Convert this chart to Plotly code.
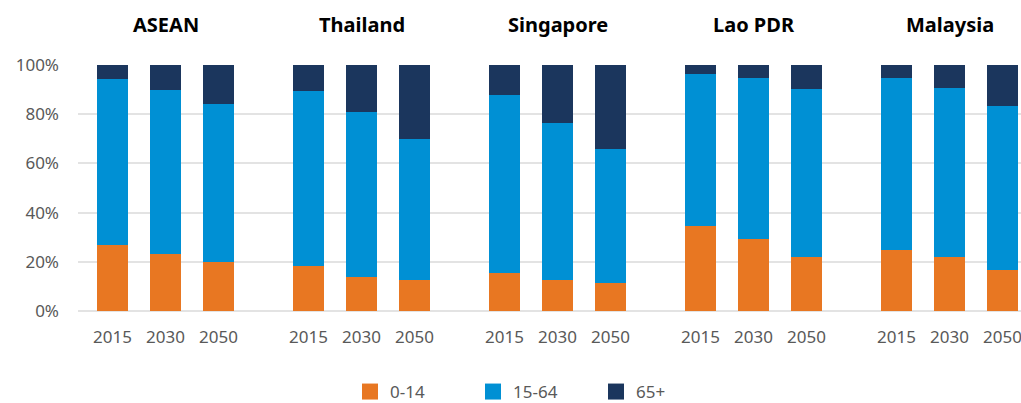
import plotly.graph_objects as go

countries = ["ASEAN", "Thailand", "Singapore", "Lao PDR", "Malaysia"]
years = ["2015", "2030", "2050"]
age_groups = ["0-14", "15-64", "65+"]

share_0_14 = [
    [26.8, 23.3, 19.9],
    [18.3, 13.8, 12.6],
    [15.4, 12.7, 11.4],
    [34.7, 29.3, 21.9],
    [24.9, 21.9, 16.7],
]
share_15_64 = [
    [67.5, 66.5, 64.2],
    [71.1, 67.1, 57.3],
    [72.4, 63.7, 54.5],
    [61.6, 65.4, 68.3],
    [69.8, 68.8, 66.6],
]
share_65_plus = [
    [5.7, 10.2, 15.9],
    [10.6, 19.1, 30.1],
    [12.2, 23.6, 34.1],
    [3.7, 5.3, 9.8],
    [5.3, 9.3, 16.7],
]

colors = ["#E87722", "#0090D4", "#1B365D"]

group_step = 196 / 53  # spacing between country groups in bar-step units
xpos = []
xlab = []
for gi, c in enumerate(countries):
    for yi, y in enumerate(years):
        xpos.append(gi * group_step + yi)
        xlab.append(y)

fig = go.Figure()
for name, data, col in zip(age_groups, [share_0_14, share_15_64, share_65_plus], colors):
    vals = [v for row in data for v in row]
    fig.add_trace(go.Bar(
        x=xpos, y=vals, name=name, marker=dict(color=col, line=dict(width=0)),
        width=31 / 53, showlegend=False,
    ))
# legend entries with larger square swatches
for name, col in zip(age_groups, colors):
    fig.add_trace(go.Scatter(
        x=[None], y=[None], mode="markers", name=name,
        marker=dict(symbol="square", size=22, color=col),
    ))

for gi, c in enumerate(countries):
    fig.add_annotation(
        x=gi * group_step + 1, y=1, xref="x", yref="paper", yanchor="bottom",
        yshift=25, text="<b>" + c + "</b>", showarrow=False,
        font=dict(size=20, color="#000000", family="Noto Sans"),
    )

fig.update_layout(
    barmode="stack",
    width=1021, height=403,
    margin=dict(l=78, r=0, t=65, b=92, autoexpand=False),
    paper_bgcolor="white", plot_bgcolor="white",
    font=dict(family="Noto Sans", color="#595959", size=17),
    bargap=0,
    legend=dict(
        orientation="h", x=(350 - 78) / (1021 - 78), xanchor="left",
        y=-81 / 246, yanchor="middle",
        font=dict(size=17, color="#595959"), entrywidth=78, traceorder="normal",
        itemsizing="trace",
    ),
    xaxis=dict(
        range=[-34.5 / 53, (1021 - 112.5) / 53],
        tickvals=xpos, ticktext=xlab, showgrid=False, zeroline=False,
        showline=False, ticks="", ticklabelstandoff=14, ticklabeloverflow="allow",
    ),
    yaxis=dict(
        range=[0, 100], tickvals=[0, 20, 40, 60, 80, 100],
        ticktext=["0%", "20%", "40%", "60%", "80%", "100%"],
        showgrid=True, gridcolor="#E3E3E3", gridwidth=2, zeroline=True,
        zerolinecolor="#E3E3E3", zerolinewidth=2, ticks="", ticklabelstandoff=18,
    ),
)

fig.write_html(
    "out.html",
    config={"displayModeBar": False},
    post_script="document.body.style.margin='0';document.body.style.overflow='hidden';",
)
